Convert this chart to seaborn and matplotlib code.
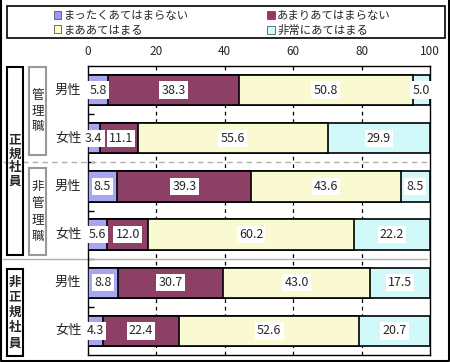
import numpy as np
import pandas as pd
import seaborn as sns
from matplotlib import pyplot as plt
from matplotlib.patches import Rectangle, Patch
from matplotlib.lines import Line2D

sns.set_theme(style='white')
plt.rcParams['font.family'] = ['Noto Sans CJK JP', 'DejaVu Sans']

categories = ['まったくあてはまらない', 'あまりあてはまらない', 'まああてはまる', '非常にあてはまる']
rows = ['男性', '女性', '男性', '女性', '男性', '女性']
not_at_all = [5.8, 3.4, 8.5, 5.6, 8.8, 4.3]
not_much = [38.3, 11.1, 39.3, 12.0, 30.7, 22.4]
somewhat = [50.8, 55.6, 43.6, 60.2, 43.0, 52.6]
very = [5.0, 29.9, 8.5, 22.2, 17.5, 20.7]
colors = ['#9999FF', '#993366', '#FFFFCC', '#CCFFFF']

series = [not_at_all, not_much, somewhat, very]
cum = np.cumsum(np.array(series), axis=0)

W, H = 450, 362
fig = plt.figure(figsize=(W / 100, H / 100), dpi=100)
ax = fig.add_axes([88 / W, 1 - 355 / H, 342 / W, 289 / H])

# stacked bars: draw cumulative totals from the right end backwards
for i in range(3, -1, -1):
    df = pd.DataFrame({'row': range(len(rows)), 'val': cum[i]})
    sns.barplot(data=df, x='val', y='row', orient='h', color=colors[i],
                edgecolor='black', linewidth=1.2, width=0.63, ax=ax, zorder=3)

ax.set_xlim(0, 100)
ax.set_ylim(5.5, -0.5)
ax.set_xlabel('')
ax.set_ylabel('')

# value labels
labels = [[] for _ in rows]
for i in range(4):
    left = cum[i] - np.array(series[i])
    for r, v in enumerate(series[i]):
        x = left[r] + v / 2
        t = ax.text(x, r, f'{v:.1f}', ha='center', va='center', fontsize=9, zorder=5,
                    bbox=dict(fc='white', ec='none', pad=1.5))
        labels[r].append(t)

# push overlapping labels to the right, like excel does
fig.canvas.draw()
renderer = fig.canvas.get_renderer()
for row_labels in labels:
    prev_right = None
    for t in row_labels:
        bb = t.get_bbox_patch().get_window_extent(renderer)
        if prev_right is not None and bb.x0 < prev_right + 2:
            shift = prev_right + 2 - bb.x0
            x_disp, y_disp = ax.transData.transform(t.get_position())
            t.set_position(ax.transData.inverted().transform((x_disp + shift, y_disp)))
            fig.canvas.draw()
            bb = t.get_bbox_patch().get_window_extent(renderer)
        prev_right = bb.x1

ax.xaxis.tick_top()
ax.set_xticks([0, 20, 40, 60, 80, 100])
ax.tick_params(axis='x', length=0, labelsize=8.5, pad=6)
ax.set_yticks([])
ax.set_yticks([0.5, 1.5, 2.5, 3.5, 4.5], minor=True)
ax.tick_params(axis='y', which='minor', direction='in', length=4, width=1, color='black', left=True)
for x in [20, 40, 60, 80]:
    ax.axvline(x, color='black', lw=0.9, ls=(0, (3, 3)), zorder=1)
for s in ax.spines.values():
    s.set_color('black')
    s.set_linewidth(1)

for r, name in enumerate(rows):
    ax.text(-0.058, r, name, transform=ax.get_yaxis_transform(), ha='center', va='center', fontsize=9.5)

# group separators
ax.plot([-85 / 342, 339 / 342], [1.5, 1.5], transform=ax.get_yaxis_transform(), clip_on=False,
        color='#b0b0b0', lw=1, ls=(0, (4, 3)), zorder=2)
ax.plot([-85 / 342, 339 / 342], [3.5, 3.5], transform=ax.get_yaxis_transform(), clip_on=False,
        color='#b0b0b0', lw=1, zorder=2)


def box(x0, y0, x1, y1, text, ec, bold, step):
    fig.add_artist(Rectangle((x0 / W, 1 - y1 / H), (x1 - x0) / W, (y1 - y0) / H,
                             transform=fig.transFigure, fill=False, ec=ec, lw=1.5))
    yc = (y0 + y1) / 2
    n = len(text)
    for k, ch in enumerate(text):
        y = yc + (k - (n - 1) / 2) * step
        fig.text((x0 + x1) / 2 / W, 1 - y / H, ch, ha='center', va='center',
                 fontsize=9, fontweight='bold' if bold else 'normal')


box(7, 67, 23, 255, '正規社員', 'black', True, 13.8)
box(29, 67, 46, 155, '管理職', '#999999', False, 15.5)
box(29, 168, 46, 255, '非管理職', '#999999', False, 16.5)
box(7, 269, 23, 356, '非正規社員', 'black', True, 15.2)

# legend
handles = [Patch(fc=c, ec='#555555', lw=0.6) for c in colors]
order = [0, 2, 1, 3]
fig.legend([handles[i] for i in order], [categories[i] for i in order], ncol=2,
           loc='upper left', bbox_to_anchor=(46 / W, 1 - 3 / H), frameon=False,
           fontsize=8.2, handlelength=0.65, handleheight=0.65, handletextpad=0.2,
           columnspacing=6.9, labelspacing=0.3, borderpad=0.2)
fig.add_artist(Rectangle((7 / W, 1 - 38 / H), 438 / W, 32 / H, transform=fig.transFigure,
                         fill=False, ec='black', lw=1.2))

# outer frame (left, right, bottom)
fig.add_artist(Line2D([0.5 / W, 0.5 / W, 448.5 / W, 448.5 / W], [1, 1.5 / H, 1.5 / H, 1],
                      transform=fig.transFigure, color='black', lw=1.5))

fig.savefig('out.png', dpi=100)
